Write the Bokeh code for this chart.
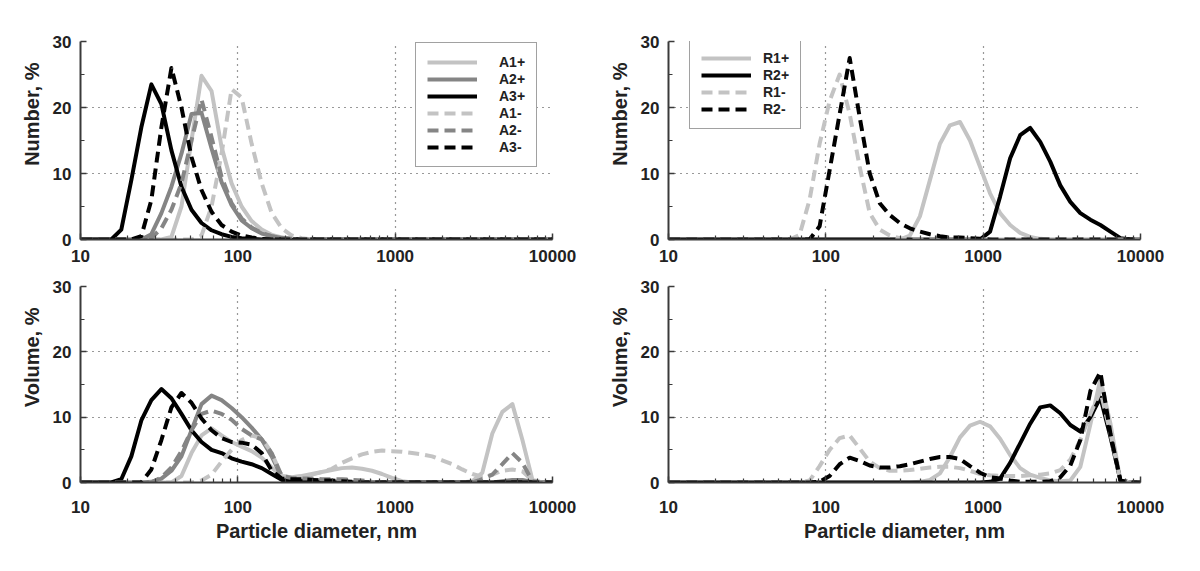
from bokeh.plotting import figure
from bokeh.models import Range1d, FixedTicker, NumeralTickFormatter, Title
from bokeh.layouts import column, row
from bokeh.embed import file_html
from bokeh.resources import INLINE

# ---------------- data ----------------
sizes_nm = [10.10, 11.70, 13.54, 15.69, 18.17, 21.04, 24.36, 28.21, 32.67, 37.84, 43.82, 50.75,
            58.77, 68.06, 78.82, 91.28, 105.7, 122.4, 141.8, 164.2, 190.1, 220.2, 255.0, 295.3,
            342.0, 396.1, 458.7, 531.2, 615.1, 712.4, 825.0, 955.4, 1106, 1281, 1484, 1718,
            1990, 2305, 2669, 3091, 3580, 4145, 4801, 5560, 6439, 7456, 8635, 10000]

# Number distributions, A samples
a1p_number = [0, 0, 0, 0, 0, 0, 0, 0, 0, 0.4, 5, 15,
              24.8, 22.5, 14, 8.5, 5, 2.8, 1.5, 0.7, 0.3, 0.1, 0, 0,
              0, 0, 0, 0, 0, 0, 0, 0, 0, 0, 0, 0,
              0, 0, 0, 0, 0, 0, 0, 0, 0, 0, 0, 0]
a2p_number = [0, 0, 0, 0, 0, 0, 0, 0.8, 4, 8, 13, 19,
              19.2, 13.8, 8.7, 5.2, 2.9, 1.7, 0.9, 0.5, 0.25, 0.1, 0, 0,
              0, 0, 0, 0, 0, 0, 0, 0, 0, 0, 0, 0,
              0, 0, 0, 0, 0, 0, 0, 0, 0, 0, 0, 0]
a3p_number = [0, 0, 0, 0, 1.5, 9, 17, 23.5, 20.5, 13.5, 8, 4.5,
              2.5, 1.4, 0.8, 0.4, 0.2, 0.1, 0, 0, 0, 0, 0, 0,
              0, 0, 0, 0, 0, 0, 0, 0, 0, 0, 0, 0,
              0, 0, 0, 0, 0, 0, 0, 0, 0, 0, 0, 0]
a1m_number = [0, 0, 0, 0, 0, 0, 0, 0, 0, 0, 0, 0,
              0.6, 5, 13, 22.8, 21.5, 14.5, 8.5, 4, 1.7, 0.6, 0.2, 0,
              0, 0, 0, 0, 0, 0, 0, 0, 0, 0, 0, 0,
              0, 0, 0, 0, 0, 0, 0, 0, 0, 0, 0, 0]
a2m_number = [0, 0, 0, 0, 0, 0, 0, 0.2, 1.7, 4.5, 8.5, 15,
              21.2, 15.5, 9.5, 5.5, 3.2, 1.8, 1.0, 0.5, 0.2, 0.1, 0, 0,
              0, 0, 0, 0, 0, 0, 0, 0, 0, 0, 0, 0,
              0, 0, 0, 0, 0, 0, 0, 0, 0, 0, 0, 0]
a3m_number = [0, 0, 0, 0, 0, 0, 0.5, 6, 17, 26, 20, 12.5,
              7.5, 4.2, 2.2, 1.2, 0.6, 0.3, 0.1, 0, 0, 0, 0, 0,
              0, 0, 0, 0, 0, 0, 0, 0, 0, 0, 0, 0,
              0, 0, 0, 0, 0, 0, 0, 0, 0, 0, 0, 0]

# Volume distributions, A samples
a1p_volume = [0, 0, 0, 0, 0, 0, 0, 0, 0, 0, 1, 4.5,
              7.2, 8.3, 7.2, 6.2, 5.5, 4.8, 3.8, 2.3, 0.9, 0.8, 1.0, 1.3,
              1.6, 1.9, 2.2, 2.3, 2.1, 1.8, 1.3, 0.7, 0.2, 0, 0, 0,
              0, 0, 0, 0.2, 1.5, 7.5, 10.8, 12.0, 6.5, 0.4, 0, 0]
a2p_volume = [0, 0, 0, 0, 0, 0, 0, 0.1, 0.6, 1.8, 4.0, 8.0,
              12.0, 13.3, 12.6, 11.4, 10.0, 8.4, 6.6, 4.0, 0.8, 0.6, 0.5, 0.4,
              0.3, 0.2, 0.1, 0, 0, 0, 0, 0, 0, 0, 0, 0,
              0, 0, 0, 0, 0, 0, 0.2, 0.4, 0.4, 0.1, 0, 0]
a3p_volume = [0, 0, 0, 0, 0.5, 4, 9.5, 12.6, 14.3, 12.9, 10.5, 8.0,
              6.2, 5.0, 4.5, 3.7, 3.2, 2.8, 2.2, 1.3, 0.4, 0.3, 0.2, 0.1,
              0, 0, 0, 0, 0, 0, 0, 0, 0, 0, 0, 0,
              0, 0, 0, 0, 0, 0, 0, 0, 0, 0, 0, 0]
a1m_volume = [0, 0, 0, 0, 0, 0, 0, 0, 0, 0, 0, 0,
              0.3, 1.2, 3.2, 5.0, 6.5, 7.2, 6.8, 4.5, 1.0, 0.8, 0.9, 1.2,
              1.6, 2.1, 3.0, 3.7, 4.3, 4.7, 4.9, 4.8, 4.7, 4.5, 4.3, 4.0,
              3.4, 2.8, 2.0, 1.3, 0.9, 1.2, 1.8, 2.0, 1.7, 0.3, 0, 0]
a2m_volume = [0, 0, 0, 0, 0, 0, 0, 0, 0.8, 2.3, 4.8, 8.0,
              10.5, 11.0, 10.5, 9.6, 8.2, 7.2, 6.6, 4.5, 1.0, 0.7, 0.6, 0.6,
              0.5, 0.5, 0.5, 0.4, 0.3, 0.1, 0, 0, 0, 0, 0, 0,
              0, 0, 0, 0, 0.5, 1.2, 2.8, 4.5, 3.0, 0.2, 0, 0]
a3m_volume = [0, 0, 0, 0, 0, 0, 0, 2, 6.5, 11.5, 13.7, 12.2,
              9.8, 8.0, 6.8, 6.2, 6.1, 5.8, 4.5, 1.8, 0.6, 0.5, 0.5, 0.4,
              0.3, 0.3, 0.2, 0.1, 0, 0, 0, 0, 0, 0, 0, 0,
              0, 0, 0, 0, 0, 0, 0, 0, 0, 0, 0, 0]

# Number distributions, R samples
r1p_number = [0, 0, 0, 0, 0, 0, 0, 0, 0, 0, 0, 0,
              0, 0, 0, 0, 0, 0, 0, 0, 0, 0, 0, 0,
              0.6, 3.5, 9, 14.5, 17.3, 17.8, 15, 11, 7, 4, 2.2, 1.0,
              0.4, 0.1, 0, 0, 0, 0, 0, 0, 0, 0, 0, 0]
r2p_number = [0, 0, 0, 0, 0, 0, 0, 0, 0, 0, 0, 0,
              0, 0, 0, 0, 0, 0, 0, 0, 0, 0, 0, 0,
              0, 0, 0, 0, 0, 0, 0, 0, 1.2, 6.5, 12.3, 15.8,
              16.9, 14.8, 11.8, 8.2, 5.7, 4.0, 3.0, 2.2, 1.2, 0.2, 0, 0]
r1m_number = [0, 0, 0, 0, 0, 0, 0, 0, 0, 0, 0, 0,
              0, 0.7, 6, 14.5, 21, 25, 19, 11, 4, 1.5, 0.6, 0.2,
              0, 0, 0, 0, 0, 0, 0, 0, 0, 0, 0, 0,
              0, 0, 0, 0, 0, 0, 0, 0, 0, 0, 0, 0]
r2m_number = [0, 0, 0, 0, 0, 0, 0, 0, 0, 0, 0, 0,
              0, 0, 0, 2, 10.5, 19, 27.5, 18.5, 10, 5.5, 3.7, 2.5,
              1.7, 1.2, 0.8, 0.5, 0.3, 0.3, 0.2, 0.1, 0, 0, 0, 0,
              0, 0, 0, 0, 0, 0, 0, 0, 0, 0, 0, 0]

# Volume distributions, R samples
r1p_volume = [0, 0, 0, 0, 0, 0, 0, 0, 0, 0, 0, 0,
              0, 0, 0, 0, 0, 0, 0, 0, 0, 0, 0, 0,
              0, 0.1, 0.4, 1.4, 3.9, 6.9, 8.7, 9.3, 8.6, 6.7, 4.2, 2.2,
              1.2, 0.7, 0.3, 0.2, 0.3, 2.4, 8.9, 15.8, 9.0, 0.3, 0, 0]
r2p_volume = [0, 0, 0, 0, 0, 0, 0, 0, 0, 0, 0, 0,
              0, 0, 0, 0, 0, 0, 0, 0, 0, 0, 0, 0,
              0, 0, 0, 0, 0, 0, 0, 0, 0.1, 0.6, 3.0, 6.0,
              9.0, 11.5, 11.8, 10.6, 8.8, 7.8, 10.0, 13.0, 7.0, 0.3, 0, 0]
r1m_volume = [0, 0, 0, 0, 0, 0, 0, 0, 0, 0, 0, 0,
              0, 0, 0.3, 2.5, 5.0, 6.8, 7.2, 5.2, 3.2, 2.2, 1.8, 1.8,
              1.9, 2.1, 2.3, 2.4, 2.4, 2.2, 1.8, 1.3, 1.1, 1.0, 1.0, 1.0,
              1.1, 1.2, 1.4, 1.9, 3.5, 6.5, 10.5, 14.0, 7.5, 0.3, 0, 0]
r2m_volume = [0, 0, 0, 0, 0, 0, 0, 0, 0, 0, 0, 0,
              0, 0, 0, 0.1, 1.0, 2.8, 3.8, 3.3, 2.6, 2.3, 2.3, 2.5,
              2.8, 3.2, 3.6, 3.9, 3.9, 3.6, 2.5, 1.5, 0.8, 0.6, 0.3, 0.1,
              0.1, 0.1, 0.2, 0.8, 2.6, 6.5, 14.0, 16.9, 7.5, 0.3, 0, 0]

a_labels = ["A1+", "A2+", "A3+", "A1-", "A2-", "A3-"]
r_labels = ["R1+", "R2+", "R1-", "R2-"]
x_ticks = [10, 100, 1000, 10000]
y_ticks = [0, 10, 20, 30]

# ---------------- styling ----------------
FONT = "Liberation Sans"
LIGHT, MID, DARK = "#c3c3c3", "#858585", "#000000"
DASH = "11 6"
LW = 4

a_styles = [(LIGHT, "solid"), (MID, "solid"), (DARK, "solid"),
            (LIGHT, DASH), (MID, DASH), (DARK, DASH)]
r_styles = [(LIGHT, "solid"), (DARK, "solid"), (LIGHT, DASH), (DARK, DASH)]

x_minor = [m * d for d in (10, 100, 1000) for m in range(2, 10)]


def make_panel(width, height, b_top, b_bottom, b_right, ylabel, xlabel, x_standoff):
    p = figure(width=width, height=height, x_axis_type="log",
               x_range=Range1d(10, 10000), y_range=Range1d(0, 30),
               output_backend="svg", toolbar_location=None, tools="",
               min_border_left=80, min_border_right=b_right,
               min_border_top=b_top, min_border_bottom=b_bottom)
    p.outline_line_color = None
    p.background_fill_color = "white"
    p.border_fill_color = "white"

    p.xaxis.ticker = FixedTicker(ticks=x_ticks, minor_ticks=x_minor)
    p.xaxis.formatter = NumeralTickFormatter(format="0")
    p.yaxis.ticker = FixedTicker(ticks=y_ticks, minor_ticks=[5, 15, 25])

    for ax in (p.xaxis[0], p.yaxis[0]):
        ax.axis_line_color = "#3a3a3a"
        ax.axis_line_width = 2
        ax.major_tick_in = 6
        ax.major_tick_out = 0
        ax.minor_tick_in = 4
        ax.minor_tick_out = 0
        ax.major_tick_line_color = "#3a3a3a"
        ax.minor_tick_line_color = "#3a3a3a"
        ax.major_tick_line_width = 1.5
        ax.minor_tick_line_width = 1.2
        ax.major_label_text_font = FONT
        ax.major_label_text_font_style = "bold"
        ax.major_label_text_font_size = "17px"
        ax.major_label_text_color = "#222222"
    p.xaxis.major_label_standoff = x_standoff
    p.yaxis.major_label_standoff = 9

    if xlabel:
        p.xaxis.axis_label = xlabel
        p.xaxis.axis_label_text_font = FONT
        p.xaxis.axis_label_text_font_style = "bold"
        p.xaxis.axis_label_text_font_size = "20px"
        p.xaxis.axis_label_text_color = "#222222"
        p.xaxis.axis_label_standoff = 4

    p.add_layout(Title(text=ylabel, align="right", offset=21,
                       text_font=FONT, text_font_style="bold",
                       text_font_size="20px", text_color="#222222",
                       standoff=13), "left")

    for g in (p.xgrid[0], p.ygrid[0]):
        g.grid_line_color = "#333333"
        g.grid_line_dash = "1 5"
        g.grid_line_width = 1.2
    return p


def add_lines(p, series, labels, styles, with_legend):
    for ys, lab, (col, dash) in zip(series, labels, styles):
        kw = dict(legend_label=lab) if with_legend else {}
        p.line(sizes_nm, ys, line_color=col, line_width=LW,
               line_dash=dash, line_join="round", **kw)


def style_legend(p, loc, standoff):
    lg = p.legend[0]
    lg.location = loc
    lg.glyph_width = 50
    lg.glyph_height = 14
    lg.label_height = 14
    lg.spacing = 1
    lg.padding = 11
    lg.margin = 0
    lg.label_standoff = standoff
    lg.label_text_font = FONT
    lg.label_text_font_style = "bold"
    lg.label_text_font_size = "14px"
    lg.label_text_color = "#222222"
    lg.border_line_color = "#444444"
    lg.border_line_width = 1.5
    lg.background_fill_color = "white"
    lg.background_fill_alpha = 1.0


W_LEFT, W_RIGHT = 588, 596
H_TOP, H_BOT = 269, 294

p1 = make_panel(W_LEFT, H_TOP, 41, 30, 36, "Number, %", None, 10)
add_lines(p1, [a1p_number, a2p_number, a3p_number, a1m_number, a2m_number, a3m_number],
          a_labels, a_styles, True)
style_legend(p1, (335, 72), 22)

p2 = make_panel(W_RIGHT, H_TOP, 41, 30, 44, "Number, %", None, 10)
add_lines(p2, [r1p_number, r2p_number, r1m_number, r2m_number], r_labels, r_styles, True)
style_legend(p2, (21, 110), 12)

p3 = make_panel(W_LEFT, H_BOT, 15, 81, 36, "Volume, %", "Particle diameter, nm", 18)
add_lines(p3, [a1p_volume, a2p_volume, a3p_volume, a1m_volume, a2m_volume, a3m_volume],
          a_labels, a_styles, False)

p4 = make_panel(W_RIGHT, H_BOT, 17, 78, 44, "Volume, %", "Particle diameter, nm", 18)
add_lines(p4, [r1p_volume, r2p_volume, r1m_volume, r2m_volume], r_labels, r_styles, False)

layout = column(row(p1, p2), row(p3, p4))

open("out.html", "w").write(file_html(layout, INLINE))
